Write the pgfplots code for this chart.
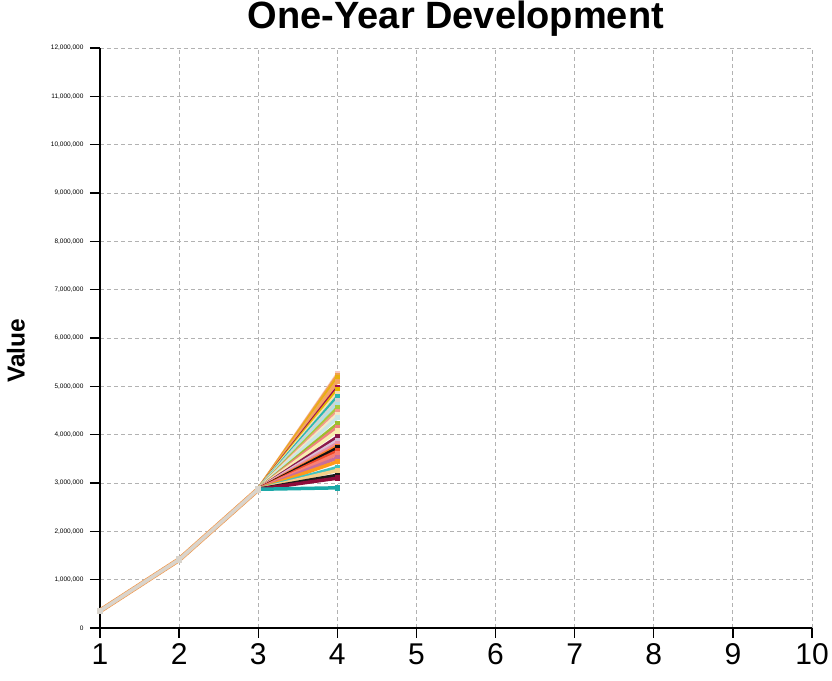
\documentclass[border=0pt]{standalone}
\usepackage{pgfplots}
\pgfplotsset{compat=1.18}
\usepackage{fontspec}
\setmainfont{Liberation Sans}
\definecolor{c1}{HTML}{F7C6C0}
\definecolor{c2}{HTML}{F0A04B}
\definecolor{c3}{HTML}{E8B010}
\definecolor{c4}{HTML}{F4A460}
\definecolor{c5}{HTML}{9E0B4F}
\definecolor{c6}{HTML}{E6B800}
\definecolor{c7}{HTML}{F5DEB3}
\definecolor{c8}{HTML}{2AB7B0}
\definecolor{c9}{HTML}{D3D3D3}
\definecolor{c10}{HTML}{B0E0E6}
\definecolor{c11}{HTML}{A8C83C}
\definecolor{c12}{HTML}{F49A8A}
\definecolor{c13}{HTML}{F3E9C6}
\definecolor{c14}{HTML}{C8E6E6}
\definecolor{c15}{HTML}{9DBE2E}
\definecolor{c16}{HTML}{F08080}
\definecolor{c17}{HTML}{F7EEB0}
\definecolor{c18}{HTML}{8B1A4A}
\definecolor{c19}{HTML}{D8BFD8}
\definecolor{c20}{HTML}{E890A8}
\definecolor{c21}{HTML}{FF7F27}
\definecolor{c22}{HTML}{111111}
\definecolor{c23}{HTML}{F04A2A}
\definecolor{c24}{HTML}{FA8072}
\definecolor{c25}{HTML}{C86E9A}
\definecolor{c26}{HTML}{FF9A1A}
\definecolor{c27}{HTML}{40C4C0}
\definecolor{c28}{HTML}{F5D08A}
\definecolor{c29}{HTML}{1A1A1A}
\definecolor{c30}{HTML}{8E0C3A}
\definecolor{c31}{HTML}{1AA8A8}
\definecolor{c32}{HTML}{D9D4CC}
\begin{document}
\begin{tikzpicture}
\useasboundingbox (-100pt,-52pt) rectangle (732pt,628pt);
\begin{axis}[
  at={(0pt,0pt)}, anchor=south west,
  scale only axis, width=712pt, height=580pt,
  xmin=1, xmax=10, ymin=0, ymax=12000000,
  xtick={1,2,...,10},
  ytick={0,1000000,...,12000000},
  scaled y ticks=false,
  /pgf/number format/.cd, fixed, 1000 sep={,}, assume math mode=true,
  /pgfplots/.cd,
  axis lines*=left,
  axis line style={black, line width=1.3pt},
  tick style={black, line width=1.3pt},
  tick align=outside,
  major tick length=10pt,
  grid=major,
  major grid style={gray!60, dashed, line width=0.9pt, dash pattern=on 4pt off 3pt},
  xticklabel style={font=\fontsize{30}{32}\selectfont, yshift=-2pt},
  yticklabel style={font=\fontsize{6.5}{7}\selectfont, xshift=-3pt},
  title={\bfseries One-Year Development},
  title style={font=\fontsize{38}{42}\selectfont, at={(axis description cs:0.5,1)}, anchor=base, yshift=13pt},
  ylabel={\bfseries Value},
  ylabel style={font=\fontsize{24.5}{26}\selectfont, at={(axis description cs:-0.118,0.478)}, anchor=center},
  every axis plot/.append style={line width=3.5pt, mark=square*, mark size=1pt},
]
\addplot[c1] coordinates {(1,355000)(2,1415000)(3,2870000)(4,5250000)};
\addplot[c2] coordinates {(1,355000)(2,1415000)(3,2870000)(4,5220000)};
\addplot[c3] coordinates {(1,355000)(2,1415000)(3,2870000)(4,5170000)};
\addplot[c4] coordinates {(1,355000)(2,1415000)(3,2870000)(4,5100000)};
\addplot[c5] coordinates {(1,355000)(2,1415000)(3,2870000)(4,4970000)};
\addplot[c6] coordinates {(1,355000)(2,1415000)(3,2870000)(4,4920000)};
\addplot[c7] coordinates {(1,355000)(2,1415000)(3,2870000)(4,4850000)};
\addplot[c8] coordinates {(1,355000)(2,1415000)(3,2870000)(4,4780000)};
\addplot[c9] coordinates {(1,355000)(2,1415000)(3,2870000)(4,4700000)};
\addplot[c10] coordinates {(1,355000)(2,1415000)(3,2870000)(4,4620000)};
\addplot[c11] coordinates {(1,355000)(2,1415000)(3,2870000)(4,4550000)};
\addplot[c12] coordinates {(1,355000)(2,1415000)(3,2870000)(4,4480000)};
\addplot[c13] coordinates {(1,355000)(2,1415000)(3,2870000)(4,4420000)};
\addplot[c14] coordinates {(1,355000)(2,1415000)(3,2870000)(4,4350000)};
\addplot[c15] coordinates {(1,355000)(2,1415000)(3,2870000)(4,4220000)};
\addplot[c16] coordinates {(1,355000)(2,1415000)(3,2870000)(4,4150000)};
\addplot[c17] coordinates {(1,355000)(2,1415000)(3,2870000)(4,4080000)};
\addplot[c18] coordinates {(1,355000)(2,1415000)(3,2870000)(4,3950000)};
\addplot[c19] coordinates {(1,355000)(2,1415000)(3,2870000)(4,3880000)};
\addplot[c20] coordinates {(1,355000)(2,1415000)(3,2870000)(4,3820000)};
\addplot[c21] coordinates {(1,355000)(2,1415000)(3,2870000)(4,3760000)};
\addplot[c22] coordinates {(1,355000)(2,1415000)(3,2870000)(4,3720000)};
\addplot[c23] coordinates {(1,355000)(2,1415000)(3,2870000)(4,3660000)};
\addplot[c24] coordinates {(1,355000)(2,1415000)(3,2870000)(4,3600000)};
\addplot[c25] coordinates {(1,355000)(2,1415000)(3,2870000)(4,3520000)};
\addplot[c26] coordinates {(1,355000)(2,1415000)(3,2870000)(4,3440000)};
\addplot[c27] coordinates {(1,355000)(2,1415000)(3,2870000)(4,3320000)};
\addplot[c28] coordinates {(1,355000)(2,1415000)(3,2870000)(4,3260000)};
\addplot[c29] coordinates {(1,355000)(2,1415000)(3,2870000)(4,3160000)};
\addplot[c30] coordinates {(1,355000)(2,1415000)(3,2870000)(4,3100000)};
\addplot[c31] coordinates {(1,355000)(2,1415000)(3,2870000)(4,2900000)};
\addplot[c4, line width=5pt, mark=none] coordinates {(1,355000)(2,1415000)(3,2870000)};
\addplot[c32, mark=square*, mark size=1.5pt, mark options={fill=c15!60!c32}] coordinates {(1,355000)(2,1415000)(3,2870000)};
\end{axis}
\end{tikzpicture}
\end{document}
